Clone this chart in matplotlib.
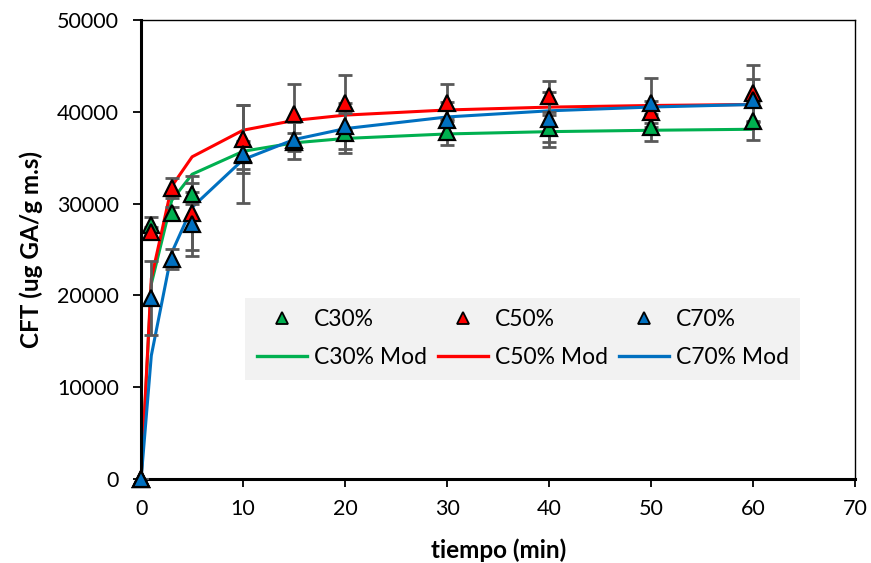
import matplotlib
matplotlib.use("Agg")
import matplotlib.pyplot as plt
from matplotlib.lines import Line2D

# Sampling times (min)
tiempo = [0, 1, 3, 5, 10, 15, 20, 30, 40, 50, 60]

# Measured CFT (ug GA/g m.s) and standard deviations
c30 = [0, 27700, 29000, 31100, 35300, 36700, 37700, 37800, 38200, 38300, 39000]
c30_sd = [0, 800, 600, 1100, 1500, 1000, 2200, 1400, 1500, 1500, 2100]
c50 = [0, 26900, 31700, 29000, 37000, 39800, 41000, 41000, 41700, 40000, 42000]
c50_sd = [0, 600, 1100, 4000, 3700, 3200, 3000, 2000, 1700, 1200, 3100]
c70 = [0, 19700, 24000, 27800, 35400, 36900, 38500, 39100, 39200, 41000, 41300]
c70_sd = [0, 4000, 1100, 3500, 5300, 2000, 2500, 2000, 3000, 2700, 2300]

# Fitted model curves evaluated at the sampling times
c30_mod = [0, 21250, 30350, 33200, 35700, 36620, 37100, 37590, 37840, 37990, 38100]
c50_mod = [0, 21830, 31880, 35100, 38000, 39060, 39640, 40200, 40510, 40690, 40800]
c70_mod = [0, 13450, 24650, 29600, 34800, 36980, 38170, 39440, 40110, 40520, 40800]

labels = ["C30%", "C50%", "C70%"]
colors = ["#00B050", "#FF0000", "#0070C0"]

plt.rcParams["font.family"] = ["Lato", "DejaVu Sans"]

fig = plt.figure(figsize=(8.71, 5.63), dpi=100)
ax = fig.add_axes([0.162, 0.149, 0.820, 0.8155])

series = [(c30, c30_sd, c30_mod), (c50, c50_sd, c50_mod), (c70, c70_sd, c70_mod)]

# model lines first, then points with error bars on top
for (obs, sd, mod), col in zip(series, colors):
    ax.plot(tiempo, mod, color=col, lw=2.2, zorder=2)

for (obs, sd, mod), col in zip(series, colors):
    ax.errorbar(tiempo, obs, yerr=sd, fmt="none", ecolor="#595959",
                elinewidth=2, capsize=5, capthick=2, zorder=3)
for (obs, sd, mod), col in zip(series, colors):
    ax.plot(tiempo, obs, linestyle="none", marker="^", markersize=11.5,
            markerfacecolor=col, markeredgecolor="black", markeredgewidth=1.6,
            zorder=4, clip_on=False)

ax.set_xlim(0, 70)
ax.set_ylim(0, 50000)
ax.set_xticks(range(0, 71, 10))
ax.set_yticks(range(0, 50001, 10000))
ax.tick_params(axis="both", labelsize=15.5, direction="out", length=6,
               width=1.3, color="black")
ax.tick_params(axis="x", pad=8)
ax.tick_params(axis="y", pad=10)

for side in ["left", "bottom"]:
    ax.spines[side].set_linewidth(2.2)
for side in ["top", "right"]:
    ax.spines[side].set_linewidth(1.0)

ax.set_xlabel("tiempo (min)", fontsize=17.5, fontweight="bold", labelpad=14)
ax.set_ylabel("CFT (ug GA/g m.s)", fontsize=17.5, fontweight="bold", labelpad=10)

# legend: markers on the first row, model lines on the second
handles = []
names = []
for lab, col in zip(labels, colors):
    handles.append(Line2D([], [], linestyle="none", marker="^", markersize=9,
                          markerfacecolor=col, markeredgecolor="black",
                          markeredgewidth=1.3))
    names.append(lab)
    handles.append(Line2D([], [], color=col, lw=2.4))
    names.append(lab + " Mod")

leg = ax.legend(handles, names, ncol=3, loc="lower left",
                bbox_to_anchor=(0.146, 0.216, 0.777, 0.187), mode="expand",
                fontsize=16.5, frameon=True, fancybox=False,
                handlelength=2.2, handletextpad=0.28, borderaxespad=0,
                labelspacing=0.75, borderpad=0.5, columnspacing=0.3)
leg.get_frame().set_facecolor("#F2F2F2")
leg.get_frame().set_edgecolor("none")
leg.get_frame().set_alpha(1)

fig.savefig("out.png", dpi=100)
